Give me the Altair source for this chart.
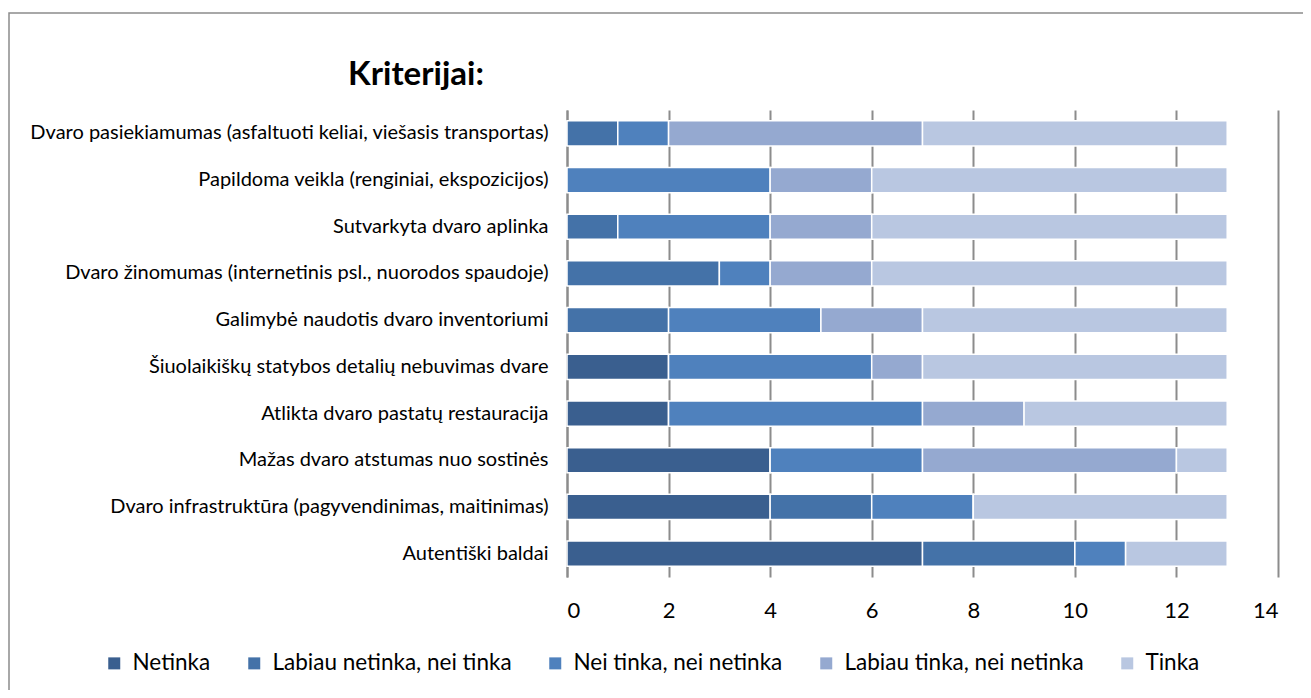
import altair as alt
import pandas as pd

criteria = [
    "Dvaro pasiekiamumas (asfaltuoti keliai, viešasis transportas)",
    "Papildoma veikla (renginiai, ekspozicijos)",
    "Sutvarkyta dvaro aplinka",
    "Dvaro žinomumas (internetinis psl., nuorodos spaudoje)",
    "Galimybė naudotis dvaro inventoriumi",
    "Šiuolaikiškų statybos detalių nebuvimas dvare",
    "Atlikta dvaro pastatų restauracija",
    "Mažas dvaro atstumas nuo sostinės",
    "Dvaro infrastruktūra (pagyvendinimas, maitinimas)",
    "Autentiški baldai",
]
series = ["Netinka", "Labiau netinka, nei tinka", "Nei tinka, nei netinka",
          "Labiau tinka, nei netinka", "Tinka"]
netinka = [0, 0, 0, 0, 0, 2, 2, 4, 4, 7]
labiau_netinka = [1, 0, 1, 3, 2, 0, 0, 0, 2, 3]
nei = [1, 4, 3, 1, 3, 4, 5, 3, 2, 1]
labiau_tinka = [5, 2, 2, 2, 2, 1, 2, 5, 0, 0]
tinka = [6, 7, 7, 7, 6, 6, 4, 1, 5, 2]
colors = ["#3A5F8F", "#4472A8", "#4F81BD", "#95A9D0", "#B9C7E1"]
x_ticks = [0, 2, 4, 6, 8, 10, 12, 14]
title_text = "Kriterijai:"

vals = [netinka, labiau_netinka, nei, labiau_tinka, tinka]
rows = []
for si, s in enumerate(series):
    for ci, c in enumerate(criteria):
        rows.append({"Kriterijus": c, "Vertinimas": s, "Kiekis": vals[si][ci], "ord": si})
df = pd.DataFrame(rows)

FONT = "Lato"

bars = alt.Chart(df).mark_bar(stroke="white", strokeWidth=1.5).encode(
    y=alt.Y("Kriterijus:N", sort=criteria, title=None,
            scale=alt.Scale(paddingInner=0.46, paddingOuter=0.23),
            axis=alt.Axis(labelFontSize=20, labelColor="black", labelFont=FONT,
                          labelPadding=19, ticks=False, domain=True,
                          domainColor="#8c8c8c", domainWidth=2, labelLimit=600)),
    x=alt.X("Kiekis:Q", stack="zero", title=None,
            scale=alt.Scale(domain=[0, 14], nice=False),
            axis=alt.Axis(values=x_ticks, labelFontSize=22, labelColor="black",
                          labelFont=FONT, labelPadding=23, ticks=False, domain=False,
                          grid=True, gridColor="#8c8c8c", gridWidth=2)),
    color=alt.Color("Vertinimas:N", sort=series,
                    scale=alt.Scale(domain=series, range=colors),
                    legend=alt.Legend(title=None, orient="none", direction="horizontal",
                                      legendX=-464, legendY=542, symbolType="square",
                                      symbolSize=144, symbolStrokeWidth=0,
                                      labelFontSize=22.5, labelFont=FONT, labelColor="black",
                                      columnPadding=32, labelOffset=7, labelLimit=400)),
    order=alt.Order("ord:Q"),
)

frame = alt.Chart(alt.Data(values=[{}])).mark_rect(
    fill="transparent", stroke="#8c8c8c", strokeWidth=1.5
).encode(
    x=alt.value(-558), x2=alt.value(1200), y=alt.value(-97), y2=alt.value(800)
)

title = alt.Chart(alt.Data(values=[{"t": title_text}])).mark_text(
    font=FONT, fontSize=33, fontWeight="bold", color="black",
    align="center", baseline="alphabetic"
).encode(
    text="t:N", x=alt.value(-151), y=alt.value(-25)
)

chart = alt.layer(frame, bars, title).properties(
    width=711, height=467,
    autosize=alt.AutoSizeParams(type="none"),
    padding={"left": 559, "top": 102, "right": 25, "bottom": 113},
).configure_view(stroke=None)

chart.save("out.html", embed_options={"renderer": "svg", "actions": False})
